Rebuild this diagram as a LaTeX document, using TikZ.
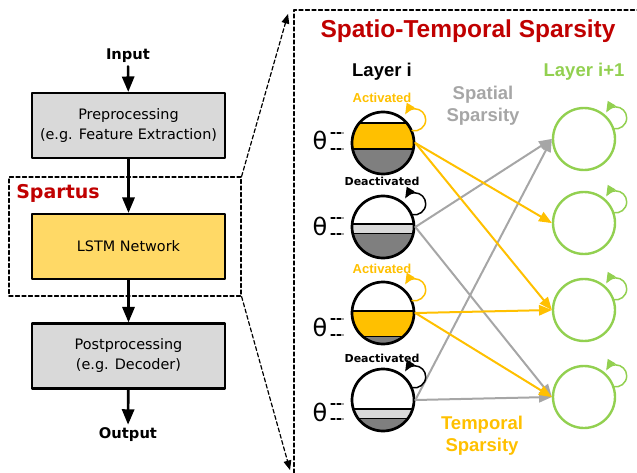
\documentclass[tikz,border=0pt]{standalone}
\usepackage{fontspec}
\setmainfont{DejaVu Sans}
\newfontfamily\arialfont{Liberation Sans}
\usetikzlibrary{arrows, calc}

\definecolor{spred}{RGB}{192,0,0}
\definecolor{spgold}{RGB}{255,192,0}
\definecolor{spgray}{RGB}{166,166,166}
\definecolor{spgreen}{RGB}{146,208,80}
\definecolor{spdark}{RGB}{127,127,127}
\definecolor{splight}{RGB}{217,217,217}
\definecolor{splstm}{RGB}{255,217,102}

\tikzset{
  stagebox/.style={draw=black, line width=2.6pt, minimum width=193pt, minimum height=65pt, align=center, font=\fontsize{14.4}{20}\selectfont},
  flow/.style={->, line width=2.6pt},
  zoomline/.style={line width=1.2pt, dash pattern=on 4pt off 2.5pt},
  cellA/.style={circle, draw=black, line width=2.7pt, minimum size=62pt, inner sep=0pt},
  cellB/.style={circle, draw=spgreen, line width=2.4pt, minimum size=62pt, inner sep=0pt},
  synapse/.style={->, line width=2pt},
  selfloop/.style={->, line width=1.5pt},
  thresh/.style={line width=1.2pt, dash pattern=on 4pt off 2pt},
  bigtag/.style={font=\arialfont\bfseries\fontsize{18.5}{22}\selectfont, align=center},
  smalltag/.style={font=\arialfont\bfseries\fontsize{13}{15}\selectfont, text=spgold},
  offtag/.style={font=\bfseries\fontsize{11}{13}\selectfont},
  theta/.style={font=\fontsize{24}{26}\selectfont}
}

\begin{document}
\begin{tikzpicture}[line cap=round,line join=round,>=triangle 45,x=1.0pt,y=-1.0pt]
\useasboundingbox (0,0) rectangle (637,473);
\clip(0,0) rectangle (637,473);

% processing chain
\node[draw, zoomline, minimum width=232pt, minimum height=119pt] (spartus) at (125,236.5) {};
\node[text=spred, font=\bfseries\fontsize{19}{22}\selectfont] (spname) at (58,193) {Spartus};

\node[font=\bfseries\fontsize{14.7}{17}\selectfont] (input) at (128,56) {Input};
\node[stagebox, fill=splight] (pre) at (128.5,125.5) {Preprocessing\\(e.g. Feature Extraction)};
\node[stagebox, fill=splstm] (lstm) at (128.5,246.5) {LSTM Network};
\node[stagebox, fill=splight] (post) at (128.5,356) {Postprocessing\\(e.g. Decoder)};
\node[font=\bfseries\fontsize{14.7}{17}\selectfont] (output) at (128,435) {Output};

\draw[flow] (input) -- (pre);
\draw[flow] (pre) -- (lstm);
\draw[flow] (lstm) -- (post);
\draw[flow] (post) -- (output);

\coordinate (zt) at (288,14);
\coordinate (zb) at (290,470);
\draw[zoomline,->] (spartus.north east) -- (zt);
\draw[zoomline,->] (spartus.south east) -- (zb);
\draw[zoomline] (294,473) -- (294,10) -- (637,10);

% sparsity view
\node[text=spred, font=\arialfont\bfseries\fontsize{24.5}{28}\selectfont] (title) at (468,31) {Spatio-Temporal Sparsity};
\node[bigtag] (layerA) at (382,72) {Layer i};
\node[bigtag, text=spgreen] (layerB) at (584,72) {Layer i+1};
\node[bigtag, text=spgray] (spatial) at (483,106) {Spatial\\Sparsity};
\node[bigtag, text=spgold] (temporal) at (482,436) {Temporal\\Sparsity};

\coordinate (c1) at (383,143);
\coordinate (c2) at (383,227);
\coordinate (c3) at (383,313);
\coordinate (c4) at (383,400);

\begin{scope}
\clip (c1) circle[radius=31pt];
\fill[spgold] (350,123) rectangle (416,149);
\fill[spdark] (350,149) rectangle (416,176);
\draw[line width=2.2pt] (350,123) -- (416,123) (350,149) -- (416,149);
\end{scope}
\begin{scope}
\clip (c2) circle[radius=31pt];
\fill[splight] (350,224) rectangle (416,233);
\fill[spdark] (350,233) rectangle (416,260);
\draw[line width=2.2pt] (350,224) -- (416,224);
\draw[line width=1pt] (350,233) -- (416,233);
\end{scope}
\begin{scope}
\clip (c3) circle[radius=31pt];
\fill[spgold] (350,311) rectangle (416,336);
\fill[spdark] (350,336) rectangle (416,346);
\draw[line width=2.2pt] (350,311) -- (416,311);
\draw[line width=1pt] (350,336) -- (416,336);
\end{scope}
\begin{scope}
\clip (c4) circle[radius=31pt];
\fill[splight] (350,409) rectangle (416,418);
\fill[spdark] (350,418) rectangle (416,433);
\draw[line width=2.2pt] (350,409) -- (416,409);
\draw[line width=1pt] (350,418) -- (416,418);
\end{scope}

\node[cellA] (n1) at (c1) {};
\node[cellA] (n2) at (c2) {};
\node[cellA] (n3) at (c3) {};
\node[cellA] (n4) at (c4) {};

\node[cellB] (m1) at (584,139) {};
\node[cellB] (m2) at (584,223) {};
\node[cellB] (m3) at (584,310) {};
\node[cellB] (m4) at (584,397) {};

\node[smalltag] (act1) at (382,98) {Activated};
\node[offtag] (off2) at (382,181) {Deactivated};
\node[smalltag] (act3) at (382,269) {Activated};
\node[offtag] (off4) at (382,358) {Deactivated};

\node[theta] (th1) at (320,140) {θ};
\node[theta] (th2) at (320,226) {θ};
\node[theta] (th3) at (320,327) {θ};
\node[theta] (th4) at (320,412) {θ};
\draw[thresh] (331,133) -- (343,133) (331,149) -- (343,149);
\draw[thresh] (331,218) -- (343,218) (331,234) -- (343,234);
\draw[thresh] (331,319) -- (343,319) (331,335) -- (343,335);
\draw[thresh] (331,404) -- (343,404) (331,419) -- (343,419);

\draw[synapse, spgray] (n2.east) -- (m1.west);
\draw[synapse, spgray] (n2.east) -- (m4.west);
\draw[synapse, spgray] (n4.east) -- (m1.west);
\draw[synapse, spgray] (n4.east) -- (m4.west);
\draw[synapse, spgold] (n1.east) -- (m2.west);
\draw[synapse, spgold] (n1.east) -- (m3.west);
\draw[synapse, spgold] (n3.east) -- (m3.west);
\draw[synapse, spgold] (n3.east) -- (m4.west);

% recurrent loops
\foreach \n/\c/\dy in {n1/spgold/-12.5, n2/black/-12.5, n3/spgold/-12.5, n4/black/-12.5, m1/spgreen/-10.4, m2/spgreen/-10.4, m3/spgreen/-10.4, m4/spgreen/-10.4}
  \draw[selfloop, \c] ($(\n)+(29,\dy)$) .. controls +(6.9,1.7) and +(0,7.2) .. ++(13.7,-10.7)
    .. controls +(0,-6.1) and +(6.1,0) .. ++(-11,-11)
    .. controls +(-3.9,0) and +(2,-3.4) .. ++(-9.5,5.5);

\end{tikzpicture}
\end{document}
